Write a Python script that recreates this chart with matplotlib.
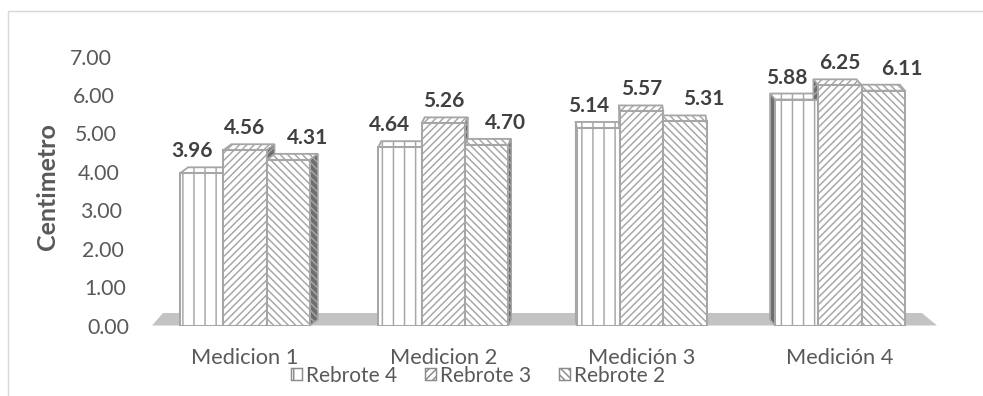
import matplotlib
matplotlib.use("Agg")
import matplotlib.pyplot as plt
from matplotlib.patches import Polygon, Patch
from matplotlib.lines import Line2D

# Plant height per measurement and regrowth
categories = ["Medicion 1", "Medicion 2", "Medición 3", "Medición 4"]
series_names = ["Rebrote 4", "Rebrote 3", "Rebrote 2"]
rebrote_4 = [3.96, 4.64, 5.14, 5.88]
rebrote_3 = [4.56, 5.26, 5.57, 6.25]
rebrote_2 = [4.31, 4.70, 5.31, 6.11]
y_ticks = [0, 1, 2, 3, 4, 5, 6, 7]
y_label = "Centimetro"

series = [rebrote_4, rebrote_3, rebrote_2]
hatches = ["||", "//////", "\\\\\\\\\\\\"]

DPI = 133
W, H = 983, 396
plt.rcParams["font.family"] = ["Lato", "DejaVu Sans"]
plt.rcParams["hatch.linewidth"] = 0.8

EDGE = "#a6a6a6"
TEXT = "#595959"
LABEL = "#404040"

fig = plt.figure(figsize=(W / DPI, H / DPI), dpi=DPI)

# axes frame in pixel terms
ax_l, ax_r, ax_b, ax_t = 150, 937, 325.5, 56.5
ax = fig.add_axes([ax_l / W, 1 - ax_b / H, (ax_r - ax_l) / W, (ax_b - ax_t) / H])
c0, step = 245, 198.3
x0 = (ax_l - c0) / step
x1 = (ax_r - c0) / step
ax.set_xlim(x0, x1)
ax.set_ylim(0, 7)
sx = (x1 - x0) / (ax_r - ax_l)      # data units per pixel
sy = 7 / (ax_b - ax_t)
for s in ax.spines.values():
    s.set_visible(False)

def px2x(p):
    return x0 + (p - ax_l) * sx

# floor
floor = Polygon([(px2x(152), 0), (px2x(937), 0), (px2x(922), 12.5 * sy), (px2x(163), 12.5 * sy)],
                closed=True, facecolor="#c3c3c3", edgecolor="none", zorder=1, clip_on=False)
ax.add_patch(floor)

bw = 43.3 * sx
depth_dy = 6 * sy
group_dx = [8 * sx, 3 * sx, -1 * sx, -5 * sx]
positions = range(len(categories))

for si, vals in enumerate(series):
    offs = (si - 1) * bw
    xs = [p + offs for p in positions]
    ax.bar(xs, vals, width=bw, facecolor="white", edgecolor=EDGE, linewidth=1.1,
           hatch=hatches[si], zorder=3)
    for gi, v in enumerate(vals):
        dx = group_dx[gi]
        xl = gi + offs - bw / 2
        xr = gi + offs + bw / 2
        top = Polygon([(xl, v), (xr, v), (xr + dx, v + depth_dy), (xl + dx, v + depth_dy)],
                      closed=True, facecolor="white", edgecolor=EDGE, linewidth=1.0,
                      hatch=hatches[si], zorder=2, clip_on=False)
        ax.add_patch(top)
        xe = xr if dx > 0 else xl
        side = Polygon([(xe, 0), (xe + dx, depth_dy), (xe + dx, v + depth_dy), (xe, v)],
                       closed=True, facecolor="#6e6e6e", edgecolor=EDGE, linewidth=0.8,
                       hatch=hatches[si], zorder=2, clip_on=False)
        ax.add_patch(side)

# value labels
label_dx = [-10, 0, 19]
for si, vals in enumerate(series):
    offs = (si - 1) * bw
    for gi, v in enumerate(vals):
        ax.annotate(f"{v:.2f}", xy=(gi + offs, v),
                    xytext=(label_dx[si] * 72 / DPI, 16 * 72 / DPI), textcoords="offset points",
                    ha="center", va="baseline", fontsize=11.3, fontweight="bold",
                    color=LABEL, zorder=5, annotation_clip=False)

# axes ticks
ax.set_yticks(y_ticks)
ax.set_yticklabels([f"{t:.2f}" for t in y_ticks], fontsize=11.5, color=TEXT)
for t, tick in zip(y_ticks, ax.yaxis.get_major_ticks()):
    right_edge = 112 + 2.43 * (7 - t)
    tick.set_pad((ax_l - right_edge) * 72 / DPI)
ax.set_xticks(list(positions))
ax.set_xticklabels(categories, fontsize=11.8, color=TEXT)
ax.tick_params(axis="both", length=0)
ax.tick_params(axis="x", pad=22 * 72 / DPI)

fig.text(47 / W, 1 - 187 / H, y_label, rotation=90, ha="center", va="center",
         fontsize=13.5, fontweight="bold", color=TEXT)

# legend
handles = [Patch(facecolor="white", edgecolor="#8c8c8c", hatch=h, linewidth=0.8) for h in hatches]
leg = fig.legend(handles, series_names, loc="center", bbox_to_anchor=(478 / W, 1 - 375.5 / H),
                 ncol=3, frameon=False, fontsize=11.3, handlelength=0.55, handleheight=0.55,
                 handletextpad=0.2, columnspacing=1.3, borderpad=0)
for t in leg.get_texts():
    t.set_color(TEXT)

# chart-area border
fig.add_artist(Line2D([8 / W, 8 / W, 1.0], [0.0, 1 - 11 / H, 1 - 11 / H],
                      transform=fig.transFigure, color="#d9d9d9", linewidth=0.8))

fig.savefig("out.png", dpi=DPI)
